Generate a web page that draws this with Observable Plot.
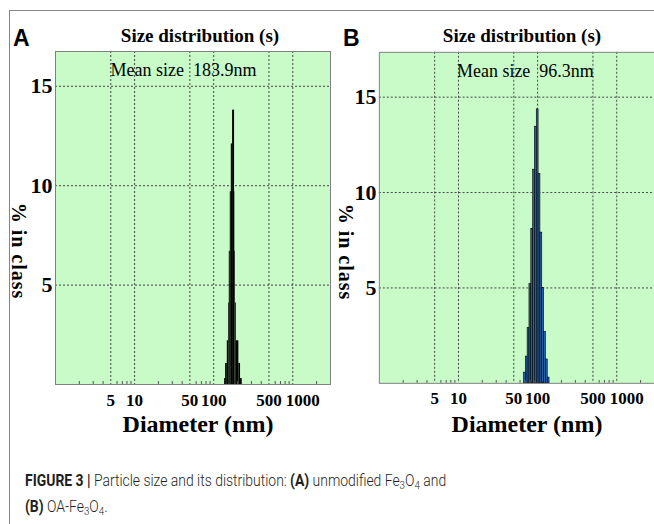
<!DOCTYPE html>
<html><head><meta charset="utf-8">
<script src="https://cdn.jsdelivr.net/npm/d3@7"></script>
<script src="https://cdn.jsdelivr.net/npm/@observablehq/plot@0.6"></script>
<style>
body{margin:0;background:#fff;}
#page{position:relative;width:654px;height:524px;overflow:hidden;background:#fff;font-family:"Liberation Serif",serif;color:#000}
#frame{position:absolute;left:9px;top:10px;width:720px;height:600px;border:1px solid #858585;box-sizing:border-box}
.abs{position:absolute;white-space:nowrap;line-height:1}
.title{font-weight:bold;font-size:19px;transform:translateX(-50%)}
.letter{font-family:"Liberation Sans",Arial,sans-serif;font-weight:bold;font-size:23px}
.xlab{font-weight:bold;font-size:24px;transform:translateX(-50%)}
.ylab{font-weight:bold;font-size:20px;letter-spacing:1px;transform:translate(-50%,-50%) rotate(90deg)}
#caption{position:absolute;left:25px;top:468px;font-family:Roboto,"Liberation Sans",sans-serif;font-weight:300;font-size:16px;line-height:26px;color:#231f20;white-space:nowrap;transform:scaleX(0.87);transform-origin:0 0}
#caption b{font-weight:700}
#caption sub{font-size:0.7em;vertical-align:-0.25em;line-height:0}
.panel{position:absolute;top:0}
</style></head>
<body><div id="page">
<div id="frame"></div>
<div id="panelA" class="panel" style="left:0px"></div>
<div id="panelB" class="panel" style="left:324px"></div>
<div class="abs letter" style="left:13px;top:27px">A</div>
<div class="abs letter" style="left:343px;top:27px">B</div>
<div class="abs title" style="left:200px;top:26px">Size distribution (s)</div>
<div class="abs title" style="left:522px;top:26px">Size distribution (s)</div>
<div class="abs xlab" style="left:198px;top:412px">Diameter (nm)</div>
<div class="abs xlab" style="left:527px;top:412px">Diameter (nm)</div>
<div class="abs ylab" style="left:19px;top:251px">% in class</div>
<div class="abs ylab" style="left:346px;top:252px">% in class</div>
<div id="caption"><b>FIGURE 3 |</b> Particle size and its distribution: <b>(A)</b> unmodified Fe<sub>3</sub>O<sub>4</sub> and<br><b>(B)</b> OA-Fe<sub>3</sub>O<sub>4</sub>.</div>
</div>
<script>
// ---- data ----
const xTicks = [5, 10, 50, 100, 500, 1000];
const yTicks = [5, 10, 15];
const minorTicks = [2,3,4,6,7,8,9,20,30,40,60,70,80,90,200,300,400,600,700,800,900,2000];
// Panel A: unmodified Fe3O4 (bin edges in nm, % in class)
const edgesA = [137.5,141.5,148.7,154.4,157.6,162.2,167.0,173.4,183.7,185.3,188.6,193.0,208.1,218.6,229.6];
const pctA   = [0.3,1.06,2.2,4.1,6.7,9.7,12.1,13.8,9.7,6.7,4.1,2.2,1.06,0.3];
const meanA  = "Mean size\u00a0 183.9nm";
// Panel B: OA-Fe3O4
const edgesB = [67.3,70.9,74.8,78.9,83.2,87.8,92.5,97.6,102.9,108.5,114.5,120.7,127.3,134.3,141.6];
const pctB   = [0.56,1.4,2.9,5.2,8.1,11.2,13.45,14.36,10.98,7.9,5.0,2.7,1.25,0.3];
const meanB  = "Mean size\u00a0 96.3nm";

const GREEN = "#c8fbc8";
function panel({edges, pct, fill, stroke, yMax, mean, meanDx, width, marginTop, marginRight}) {
  const bins = pct.map((p, i) => ({x1: edges[i], x2: edges[i + 1], p}));
  const dash = {stroke: "#444", strokeOpacity: 1, strokeWidth: 1, strokeDasharray: "2,2"};
  const lbl = {text: d => String(d), frameAnchor: "bottom", lineAnchor: "top", dy: 9, fontSize: 17, fontWeight: "bold"};
  return Plot.plot({
    width, height: 414, marginLeft: 55, marginRight, marginTop, marginBottom: 30,
    x: {type: "log", domain: [1, 3000], axis: null},
    y: {domain: [0, yMax], axis: null},
    style: {fontFamily: "Liberation Serif", background: "transparent", overflow: "visible", color: "#000"},
    marks: [
      Plot.frame({fill: GREEN, stroke: "none"}),
      Plot.gridX(xTicks, dash),
      Plot.gridY(yTicks, dash),
      Plot.rectY(bins, {x1: "x1", x2: "x2", y: "p", fill, stroke, strokeWidth: stroke === "none" ? 0 : 0.6}),
      Plot.ruleX(minorTicks, {x: d => d, y1: 0, y2: 0.15, stroke: "#555"}),
      Plot.frame({stroke: "#808080", strokeWidth: 1}),
      Plot.text(yTicks, {y: d => d, text: d => String(d), frameAnchor: "left", textAnchor: "end", dx: -3, fontSize: 22, fontWeight: "bold"}),
      Plot.text(xTicks.filter(d => d !== 1000), {x: d => d, ...lbl}),
      Plot.text(xTicks.filter(d => d === 1000), {x: d => d, dx: 10, ...lbl}),
      Plot.text([mean], {frameAnchor: "top-left", textAnchor: "start", lineAnchor: "top", dx: meanDx, dy: 12, fontSize: 18})
    ]
  });
}
document.getElementById("panelA").append(panel({edges: edgesA, pct: pctA, fill: "#000", stroke: "none", yMax: 16.75, mean: meanA, meanDx: 55, width: 335, marginTop: 51, marginRight: 5}));
document.getElementById("panelB").append(panel({edges: edgesB, pct: pctB, fill: "#2462ad", stroke: "#000", yMax: 17.35, mean: meanB, meanDx: 78, width: 331, marginTop: 52, marginRight: 0}));
</script>
</body></html>
